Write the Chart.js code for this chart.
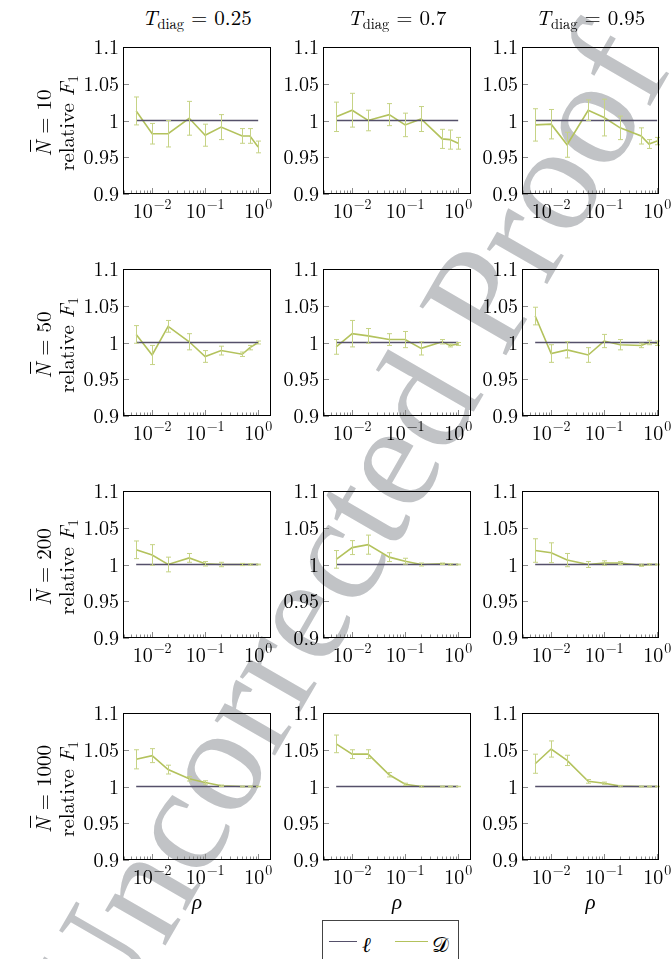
<!DOCTYPE html>
<html>
<head>
<meta charset="utf-8">
<script src="https://cdn.jsdelivr.net/npm/chart.js@4/dist/chart.umd.min.js"></script>
<style>
html,body{margin:0;padding:0;background:#fff;}
body{width:672px;height:959px;overflow:hidden;position:relative;color:#000;}
#wm{position:absolute;left:0;top:0;font-size:152px;line-height:152px;color:#c1c3c6;white-space:nowrap;z-index:0;}
.cv{position:absolute;z-index:1;}
.title{position:absolute;font-size:21px;line-height:21px;white-space:nowrap;transform:translateX(-50%);z-index:2;}
.title sub{font-size:14.5px;vertical-align:-4px;line-height:0;}
.rowlab{position:absolute;font-size:21px;line-height:23px;white-space:nowrap;text-align:center;transform:translate(-50%,-50%) rotate(-90deg);z-index:2;}
.rowlab sub{font-size:14.5px;vertical-align:-4px;line-height:0;}
.nbar{position:relative;display:inline-block;line-height:21px;}
.nbar::before{content:"";position:absolute;left:5px;top:-2px;width:12px;border-top:1.2px solid #000;}
.xlab{position:absolute;font-size:21px;line-height:20px;font-style:italic;transform:translateX(-50%);z-index:2;}
#legend{position:absolute;left:322px;top:920px;width:135px;height:46px;border:1px solid #444;background:#fff;z-index:3;font-size:21px;}
#legend .sw{position:absolute;top:20px;height:0;border-top:1.6px solid;}
#legend .tx{position:absolute;top:7px;}
</style>
</head>
<body>
<div id="wm">Uncorrected Proof</div>
<div id="legend">
  <div class="sw" style="left:6px;width:28px;border-color:#55506a"></div>
  <div class="tx" style="left:39px;font-style:italic">ℓ</div>
  <div class="sw" style="left:72px;width:33px;border-color:#b3c25c"></div>
  <div class="tx" style="left:109px">𝒟</div>
</div>
<script>
// ---------- data ----------
const rho = [0.005, 0.01, 0.02, 0.05, 0.1, 0.2, 0.5, 0.7, 1.0];
const ellValues = [1, 1, 1, 1, 1, 1, 1, 1, 1];
const colTdiag = ['0.25', '0.7', '0.95'];
const rowNbar = ['10', '50', '200', '1000'];
const yTickValues = [0.9, 0.95, 1, 1.05, 1.1];
const yTickLabels = ['0.9', '0.95', '1', '1.05', '1.1'];
const xTickExponents = [-2, -1, 0];
const xTickLabels = ['−2', '−1', '0'];

const D_N10_T025 = [1.013, 0.982, 0.982, 1.003, 0.980, 0.991, 0.979, 0.979, 0.964];
const E_N10_T025 = [0.019, 0.014, 0.018, 0.023, 0.015, 0.017, 0.010, 0.010, 0.008];
const D_N10_T07 = [1.005, 1.014, 1.000, 1.008, 0.994, 1.002, 0.975, 0.974, 0.969];
const E_N10_T07 = [0.020, 0.023, 0.014, 0.015, 0.016, 0.017, 0.013, 0.013, 0.008];
const D_N10_T095 = [0.994, 0.995, 0.967, 1.014, 1.004, 0.990, 0.979, 0.968, 0.972];
const E_N10_T095 = [0.022, 0.020, 0.017, 0.014, 0.025, 0.016, 0.011, 0.006, 0.005];

const D_N50_T025 = [1.011, 0.983, 1.022, 1.001, 0.981, 0.989, 0.984, 0.993, 1.000];
const E_N50_T025 = [0.012, 0.013, 0.008, 0.011, 0.008, 0.006, 0.003, 0.003, 0.002];
const D_N50_T07 = [0.994, 1.012, 1.009, 1.004, 1.004, 0.992, 1.001, 0.996, 0.998];
const E_N50_T07 = [0.010, 0.018, 0.010, 0.008, 0.011, 0.009, 0.003, 0.002, 0.002];
const D_N50_T095 = [1.036, 0.985, 0.990, 0.983, 1.002, 0.997, 0.996, 1.000, 0.999];
const E_N50_T095 = [0.012, 0.012, 0.011, 0.010, 0.009, 0.007, 0.003, 0.003, 0.003];

const D_N200_T025 = [1.020, 1.013, 1.000, 1.009, 1.001, 1.000, 1.000, 1.000, 1.000];
const E_N200_T025 = [0.012, 0.014, 0.010, 0.006, 0.003, 0.003, 0.0015, 0.001, 0.0005];
const D_N200_T07 = [1.007, 1.023, 1.027, 1.010, 1.0045, 1.000, 1.001, 1.000, 1.000];
const E_N200_T07 = [0.012, 0.0095, 0.013, 0.006, 0.004, 0.002, 0.001, 0.001, 0.0005];
const D_N200_T095 = [1.019, 1.016, 1.006, 1.000, 1.002, 1.002, 0.999, 1.000, 1.000];
const E_N200_T095 = [0.016, 0.0135, 0.009, 0.004, 0.003, 0.002, 0.0015, 0.001, 0.0005];

const D_N1000_T025 = [1.037, 1.042, 1.023, 1.0105, 1.0055, 1.001, 1.000, 1.000, 1.000];
const E_N1000_T025 = [0.013, 0.0095, 0.006, 0.003, 0.0023, 0.001, 0.0005, 0.0005, 0.0003];
const D_N1000_T07 = [1.058, 1.044, 1.044, 1.016, 1.003, 1.000, 1.000, 1.000, 1.000];
const E_N1000_T07 = [0.012, 0.006, 0.006, 0.003, 0.0015, 0.001, 0.0005, 0.0005, 0.0003];
const D_N1000_T095 = [1.031, 1.051, 1.0355, 1.007, 1.0045, 1.0005, 1.000, 1.000, 1.000];
const E_N1000_T095 = [0.013, 0.011, 0.007, 0.0025, 0.0015, 0.001, 0.0005, 0.0005, 0.0003];

const panelD = [
  [D_N10_T025, D_N10_T07, D_N10_T095],
  [D_N50_T025, D_N50_T07, D_N50_T095],
  [D_N200_T025, D_N200_T07, D_N200_T095],
  [D_N1000_T025, D_N1000_T07, D_N1000_T095]
];
const panelE = [
  [E_N10_T025, E_N10_T07, E_N10_T095],
  [E_N50_T025, E_N50_T07, E_N50_T095],
  [E_N200_T025, E_N200_T07, E_N200_T095],
  [E_N1000_T025, E_N1000_T07, E_N1000_T095]
];

// ---------- layout ----------
const plotLeft = [123, 323, 522];
const plotWidth = [148, 148, 137];
const plotTop = [47, 269, 491, 713];
const plotHeight = 147;
const xMinLog = -2.55;
const xMaxLog = [0.242, 0.242, 0.035];
const PL = 50, PR = 16, PT = 8, PB = 34;
const LM = '"Latin Modern Roman", "Liberation Serif", serif';
const TIMES = '"Liberation Serif", serif';
const ELL_COLOR = '#55506a';
const D_COLOR = '#b3c25c';
const ERR_COLOR = '#c6d385';

document.body.style.fontFamily = LM;
document.getElementById('legend').style.fontFamily = LM;

// watermark
(function(){
  const wm = document.getElementById('wm');
  wm.style.fontFamily = TIMES;
  const w = wm.offsetWidth, h = wm.offsetHeight;
  const cx = 346, cy = 530;
  wm.style.left = (cx - w/2) + 'px';
  wm.style.top = (cy - h/2) + 'px';
  wm.style.transform = 'rotate(-60deg)';
})();

const panelPlugin = {
  id: 'panelDecor',
  afterDatasetsDraw(chart) {
    const ctx = chart.ctx, xs = chart.scales.x, ys = chart.scales.y;
    const ds = chart.data.datasets[1];
    ctx.save();
    ctx.strokeStyle = ERR_COLOR;
    ctx.lineWidth = 1;
    ds.data.forEach((p, i) => {
      const e = ds.errs[i];
      const px = Math.round(xs.getPixelForValue(p.x)) + 0.5;
      const t = ys.getPixelForValue(p.y + e), b = ys.getPixelForValue(p.y - e);
      ctx.beginPath();
      ctx.moveTo(px, t); ctx.lineTo(px, b);
      ctx.moveTo(px - 2.5, t); ctx.lineTo(px + 2.5, t);
      ctx.moveTo(px - 2.5, b); ctx.lineTo(px + 2.5, b);
      ctx.stroke();
    });
    ctx.restore();
  },
  afterDraw(chart) {
    const ctx = chart.ctx, ca = chart.chartArea, xs = chart.scales.x, ys = chart.scales.y;
    ctx.save();
    ctx.strokeStyle = '#8c8c8c';
    ctx.lineWidth = 1;
    ctx.beginPath();
    yTickValues.forEach(v => {
      const py = Math.round(ys.getPixelForValue(v)) + 0.5;
      ctx.moveTo(ca.left, py); ctx.lineTo(ca.left + 6, py);
    });
    for (let k = -3; k <= 0; k++) {
      for (let m = 1; m <= 9; m++) {
        const v = m * Math.pow(10, k);
        if (v < xs.min || v > xs.max) continue;
        const px = Math.round(xs.getPixelForValue(v)) + 0.5;
        const len = (m === 1) ? 6 : 3.5;
        ctx.moveTo(px, ca.bottom); ctx.lineTo(px, ca.bottom - len);
      }
    }
    ctx.stroke();
    ctx.strokeStyle = '#000';
    ctx.lineWidth = 1;
    ctx.strokeRect(Math.round(ca.left) + 0.5, Math.round(ca.top) + 0.5,
                   Math.round(ca.right - ca.left) - 1, Math.round(ca.bottom - ca.top) - 1);
    ctx.fillStyle = '#000';
    ctx.font = '20px ' + LM;
    ctx.textAlign = 'right';
    ctx.textBaseline = 'alphabetic';
    yTickValues.forEach((v, i) => {
      const py = ys.getPixelForValue(v);
      ctx.fillText(yTickLabels[i], ca.left - 4, py + 7);
    });
    ctx.textAlign = 'left';
    xTickExponents.forEach((k, i) => {
      const px = xs.getPixelForValue(Math.pow(10, k));
      ctx.font = '20px ' + LM;
      const wb = ctx.measureText('10').width;
      ctx.font = '14px ' + LM;
      const we = ctx.measureText(xTickLabels[i]).width;
      const x0 = px - (wb + we + 1) / 2;
      const base = ca.bottom + 24;
      ctx.font = '20px ' + LM;
      ctx.fillText('10', x0, base);
      ctx.font = '14px ' + LM;
      ctx.fillText(xTickLabels[i], x0 + wb + 1, base - 9);
    });
    ctx.restore();
  }
};

const charts = [];
for (let r = 0; r < 4; r++) {
  for (let c = 0; c < 3; c++) {
    const cv = document.createElement('canvas');
    const W = PL + plotWidth[c] + PR, H = PT + plotHeight + PB;
    cv.width = W; cv.height = H;
    cv.className = 'cv';
    cv.style.left = (plotLeft[c] - PL) + 'px';
    cv.style.top = (plotTop[r] - PT) + 'px';
    cv.style.width = W + 'px'; cv.style.height = H + 'px';
    document.body.appendChild(cv);
    const vals = panelD[r][c], errs = panelE[r][c];
    charts.push(new Chart(cv, {
      type: 'line',
      data: {
        datasets: [
          { label: 'ℓ', data: rho.map((x, i) => ({ x: x, y: ellValues[i] })),
            borderColor: ELL_COLOR, borderWidth: 1.6, pointRadius: 0, tension: 0, fill: false },
          { label: '𝒟', data: rho.map((x, i) => ({ x: x, y: vals[i] })), errs: errs,
            borderColor: D_COLOR, borderWidth: 1.6, pointRadius: 0, tension: 0, fill: false }
        ]
      },
      options: {
        responsive: false, animation: false, devicePixelRatio: 1, events: [],
        layout: { padding: { left: PL, right: PR, top: PT, bottom: PB } },
        plugins: { legend: { display: false }, tooltip: { enabled: false }, title: { display: false } },
        scales: {
          x: { type: 'logarithmic', min: Math.pow(10, xMinLog), max: Math.pow(10, xMaxLog[c]), display: false },
          y: { type: 'linear', min: 0.9, max: 1.1, display: false }
        }
      },
      plugins: [panelPlugin]
    }));
  }
}

colTdiag.forEach((t, c) => {
  const d = document.createElement('div');
  d.className = 'title';
  d.style.fontFamily = LM;
  d.style.left = (plotLeft[c] + plotWidth[c] / 2) + 'px';
  d.style.top = '6px';
  d.innerHTML = '<i>T</i><sub>diag</sub> = ' + t;
  document.body.appendChild(d);
});
rowNbar.forEach((n, r) => {
  const d = document.createElement('div');
  d.className = 'rowlab';
  d.style.fontFamily = LM;
  d.style.left = '54px';
  d.style.top = (plotTop[r] + plotHeight / 2 + 2) + 'px';
  d.innerHTML = '<span class="nbar"><i>N</i></span> = ' + n + '<br>relative <i>F</i><sub>1</sub>';
  document.body.appendChild(d);
});
for (let c = 0; c < 3; c++) {
  const d = document.createElement('div');
  d.className = 'xlab';
  d.style.fontFamily = LM;
  d.style.left = (plotLeft[c] + plotWidth[c] / 2) + 'px';
  d.style.top = '890px';
  d.textContent = 'ρ';
  document.body.appendChild(d);
}
if (document.fonts && document.fonts.ready) {
  document.fonts.ready.then(() => charts.forEach(ch => ch.draw()));
}
</script>
</body>
</html>
